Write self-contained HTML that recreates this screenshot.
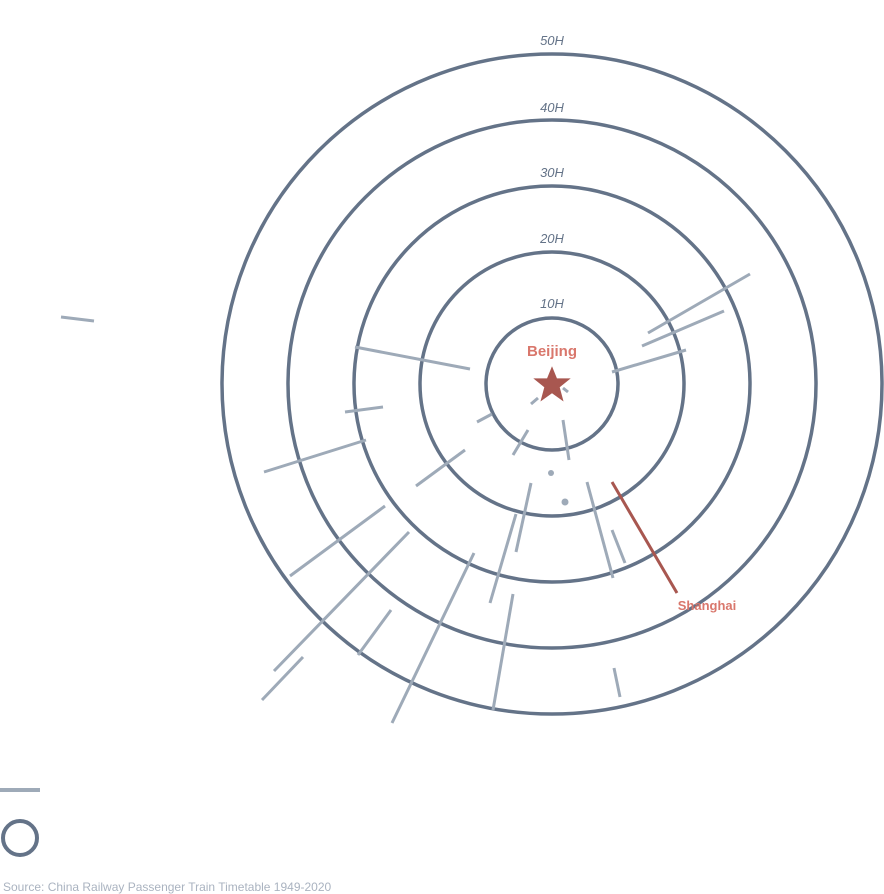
<!DOCTYPE html>
<html><head><meta charset="utf-8"><style>
html,body{margin:0;padding:0;background:#fff;}
svg{display:block;font-family:"Liberation Sans",sans-serif;}
</style></head><body>
<svg width="884" height="894" viewBox="0 0 884 894" xmlns="http://www.w3.org/2000/svg">
<g fill="none" stroke="#647388" stroke-width="3.5">
<circle cx="552" cy="384" r="330"/>
<circle cx="552" cy="384" r="264"/>
<circle cx="552" cy="384" r="198"/>
<circle cx="552" cy="384" r="132"/>
<circle cx="552" cy="384" r="66"/>
</g>
<g font-size="13" font-style="italic" fill="#647388" text-anchor="middle">
<text x="552" y="45">50H</text>
<text x="552" y="112">40H</text>
<text x="552" y="177">30H</text>
<text x="552" y="243">20H</text>
<text x="552" y="308">10H</text>
</g>
<g stroke="#9eaab8" stroke-width="3" stroke-linecap="butt">
<line x1="61" y1="317" x2="94" y2="321"/>
<line x1="355" y1="347" x2="470" y2="369"/>
<line x1="345" y1="412" x2="383" y2="407"/>
<line x1="264" y1="472" x2="366" y2="440"/>
<line x1="416" y1="486" x2="465" y2="450"/>
<line x1="477" y1="422" x2="492" y2="414"/>
<line x1="531" y1="404" x2="538" y2="398"/>
<line x1="563" y1="388" x2="568" y2="392"/>
<line x1="513" y1="455" x2="528" y2="430"/>
<line x1="563" y1="420" x2="569" y2="460"/>
<line x1="612" y1="372" x2="686" y2="350"/>
<line x1="642" y1="346" x2="724" y2="311"/>
<line x1="648" y1="333" x2="750" y2="274"/>
<line x1="290" y1="576" x2="385" y2="506"/>
<line x1="274" y1="671" x2="409" y2="532"/>
<line x1="262" y1="700" x2="303" y2="657"/>
<line x1="358" y1="655" x2="391" y2="610"/>
<line x1="392" y1="723" x2="474" y2="553"/>
<line x1="490" y1="603" x2="516" y2="514"/>
<line x1="516" y1="552" x2="531" y2="483"/>
<line x1="493" y1="710" x2="513" y2="594"/>
<line x1="587" y1="482" x2="613" y2="578"/>
<line x1="612" y1="530" x2="625" y2="563"/>
<line x1="614" y1="668" x2="620" y2="697"/>
</g>
<circle cx="551" cy="473" r="3" fill="#9eaab8"/>
<circle cx="565" cy="502" r="3.5" fill="#9eaab8"/>
<line x1="612" y1="482" x2="677" y2="593" stroke="#a85750" stroke-width="3"/>
<polygon fill="#a85750" transform="translate(552,385) scale(1.1)" points="0,-17 4.5,-6 17,-6 7,2 10.5,15 0,7.5 -10.5,15 -7,2 -17,-6 -4.5,-6"/>
<text x="552" y="356" font-size="15" font-weight="bold" fill="#d9776c" text-anchor="middle">Beijing</text>
<text x="707" y="610" font-size="13" font-weight="bold" fill="#d9776c" text-anchor="middle">Shanghai</text>
<line x1="0" y1="790" x2="40" y2="790" stroke="#9eaab8" stroke-width="4"/>
<circle cx="20" cy="838" r="17" fill="none" stroke="#647388" stroke-width="4"/>
<text x="3" y="891" font-size="12" fill="#aab3c0">Source: China Railway Passenger Train Timetable 1949-2020</text>
</svg>
</body></html>
